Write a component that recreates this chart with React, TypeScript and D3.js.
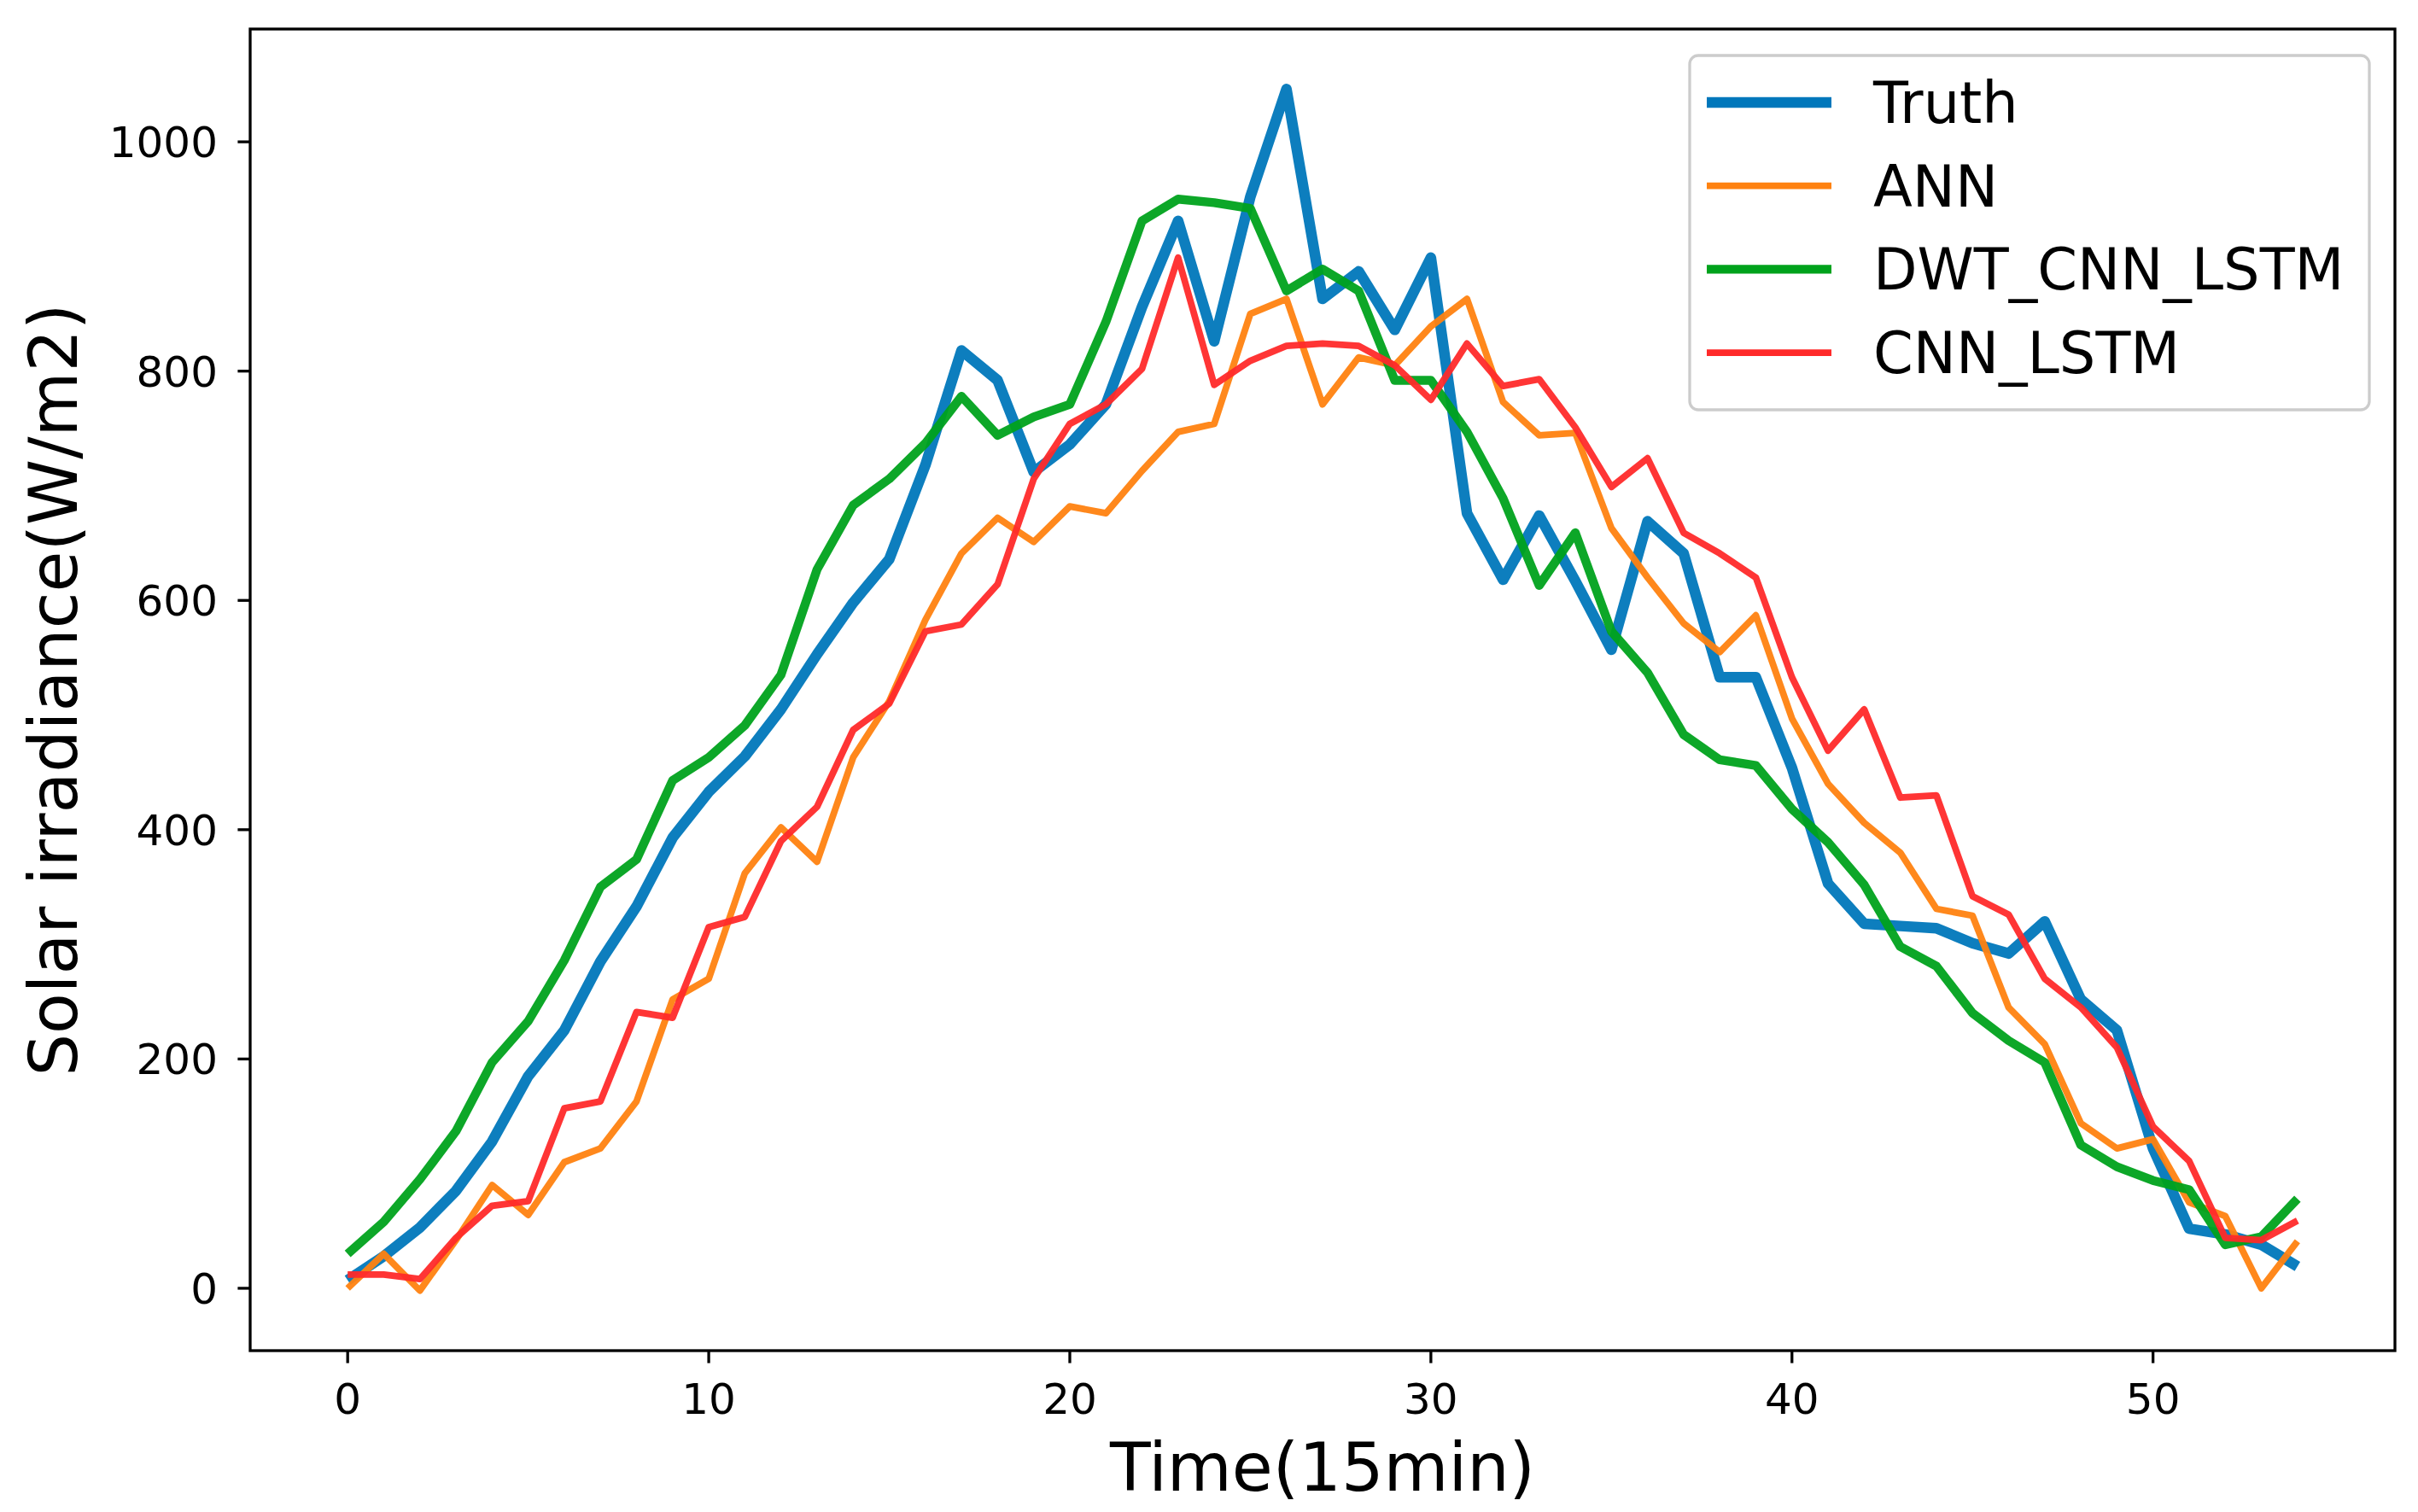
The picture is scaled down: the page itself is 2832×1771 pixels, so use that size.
import React from "react";
import * as d3 from "d3";

const timeSteps = d3.range(0, 55);

const truth = [7, 28, 53, 85, 128, 185, 225, 285, 333, 393, 433, 464, 505, 553, 598, 636, 718, 818, 792, 712, 736, 771, 856, 931, 826, 952, 1046, 863, 887, 836, 899, 676, 618, 674, 617, 557, 669, 641, 533, 533, 454, 353, 318, 316, 314, 301, 292, 320, 252, 225, 122, 52, 47, 38, 19];
const ann = [0, 30, -2, 42, 90, 64, 110, 122, 163, 252, 270, 362, 402, 372, 463, 512, 583, 641, 672, 651, 682, 676, 713, 747, 754, 850, 863, 771, 812, 805, 839, 863, 773, 744, 746, 663, 620, 580, 555, 587, 497, 440, 406, 380, 331, 325, 245, 213, 144, 122, 130, 75, 63, 0, 41];
const dwtCnnLstm = [30, 58, 95, 137, 197, 233, 286, 350, 374, 443, 463, 491, 535, 627, 683, 706, 737, 778, 744, 760, 771, 843, 931, 950, 947, 942, 870, 889, 870, 792, 792, 747, 689, 613, 659, 573, 537, 483, 461, 456, 418, 389, 352, 298, 281, 240, 216, 197, 125, 106, 94, 86, 38, 45, 78];
const cnnLstm = [12, 12, 8, 44, 72, 76, 157, 163, 241, 236, 315, 324, 390, 420, 487, 510, 573, 579, 614, 706, 754, 771, 802, 899, 788, 809, 822, 824, 822, 805, 775, 824, 787, 793, 751, 699, 724, 659, 641, 620, 533, 469, 505, 428, 430, 342, 326, 270, 245, 210, 141, 111, 44, 42, 59];

const seriesNames = ["Truth", "ANN", "DWT_CNN_LSTM", "CNN_LSTM"];
const seriesValues = [truth, ann, dwtCnnLstm, cnnLstm];
const seriesColors = ["#0077bb", "#ff8210", "#00a21c", "#ff2a2a"];
const seriesWidths = [12.5, 7.8, 10.4, 7.8];

const xTicks = [0, 10, 20, 30, 40, 50];
const yTicks = [0, 200, 400, 600, 800, 1000];

const W = 2832;
const H = 1771;
const plot = { left: 293, right: 2805, top: 34, bottom: 1582 };
const font = "'DejaVu Sans', sans-serif";

function padded(lo: number, hi: number): [number, number] {
  const m = (hi - lo) * 0.05;
  return [lo - m, hi + m];
}

export default function App() {
  const allValues = seriesValues.flat();
  const x = d3
    .scaleLinear()
    .domain(padded(0, timeSteps.length - 1))
    .range([plot.left, plot.right]);
  const y = d3
    .scaleLinear()
    .domain(padded(d3.min(allValues)!, d3.max(allValues)!))
    .range([plot.bottom, plot.top]);

  const line = d3
    .line<number>()
    .x((_, i) => x(timeSteps[i]))
    .y((d) => y(d));

  const legendX = 1979;
  const legendY = 65;
  const rowGap = 97.7;

  return (
    <div style={{ position: "absolute", left: 0, top: 0 }}>
      <svg width={W} height={H} viewBox={`0 0 ${W} ${H}`} style={{ display: "block", background: "#fff" }}>
        <rect x={0} y={0} width={W} height={H} fill="#fff" />
        <defs>
          <clipPath id="plotClip">
            <rect x={plot.left} y={plot.top} width={plot.right - plot.left} height={plot.bottom - plot.top} />
          </clipPath>
        </defs>

        {/* Lines */}
        <g clipPath="url(#plotClip)">
          {seriesValues.map((vals, i) => (
            <path
              key={seriesNames[i]}
              d={line(vals) || ""}
              fill="none"
              stroke={seriesColors[i]}
              strokeWidth={seriesWidths[i]}
              strokeLinejoin="round"
              strokeLinecap="butt"
              opacity={0.95}
            />
          ))}
        </g>

        {/* Frame */}
        <rect
          x={plot.left}
          y={plot.top}
          width={plot.right - plot.left}
          height={plot.bottom - plot.top}
          fill="none"
          stroke="#000"
          strokeWidth={3.3}
        />

        {/* X ticks */}
        {xTicks.map((t) => (
          <g key={`x${t}`}>
            <line x1={x(t)} x2={x(t)} y1={plot.bottom} y2={plot.bottom + 14.6} stroke="#000" strokeWidth={3.3} />
            <text x={x(t)} y={1656} textAnchor="middle" fontFamily={font} fontSize={50} fill="#000">
              {t}
            </text>
          </g>
        ))}

        {/* Y ticks */}
        {yTicks.map((t) => (
          <g key={`y${t}`}>
            <line x1={plot.left - 14.6} x2={plot.left} y1={y(t)} y2={y(t)} stroke="#000" strokeWidth={3.3} />
            <text x={255} y={y(t) + 18} textAnchor="end" fontFamily={font} fontSize={50} fill="#000">
              {t}
            </text>
          </g>
        ))}

        {/* Axis labels */}
        <text x={(plot.left + plot.right) / 2} y={1746} textAnchor="middle" fontFamily={font} fontSize={78} fill="#000">
          Time(15min)
        </text>
        <text
          transform={`translate(90, ${(plot.top + plot.bottom) / 2}) rotate(-90)`}
          textAnchor="middle"
          fontFamily={font}
          fontSize={78}
          fill="#000"
        >
          Solar irradiance(W/m2)
        </text>

        {/* Legend */}
        <rect
          x={legendX}
          y={legendY}
          width={796}
          height={415}
          rx={10}
          fill="#fff"
          fillOpacity={0.8}
          stroke="#cccccc"
          strokeWidth={3.3}
        />
        {seriesNames.map((name, i) => {
          const cy = 120 + i * rowGap;
          return (
            <g key={`leg${name}`}>
              <line x1={1999} x2={2145} y1={cy} y2={cy} stroke={seriesColors[i]} strokeWidth={seriesWidths[i]} />
              <text x={2194} y={cy + 24} fontFamily={font} fontSize={67} fill="#000">
                {name}
              </text>
            </g>
          );
        })}
      </svg>
    </div>
  );
}
